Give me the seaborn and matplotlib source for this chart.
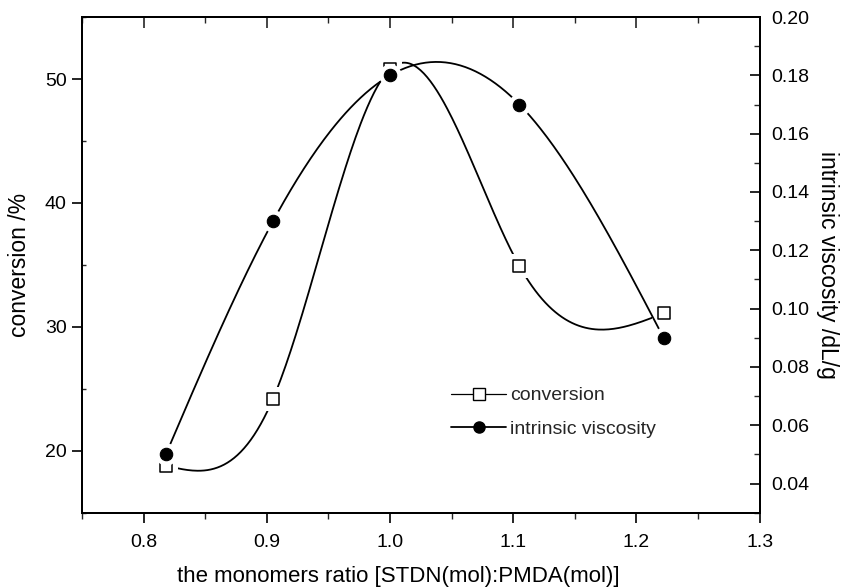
import numpy as np
import pandas as pd
import matplotlib
matplotlib.use("Agg")
import matplotlib.pyplot as plt
from matplotlib.lines import Line2D
from matplotlib.ticker import MultipleLocator
import seaborn as sns

# monomer ratio STDN:PMDA
ratio = [0.818, 0.905, 1.000, 1.105, 1.222]
# monomer conversion, %
conversion = [18.8, 24.2, 50.8, 34.9, 31.1]
# intrinsic viscosity, dL/g
viscosity = [0.050, 0.130, 0.180, 0.170, 0.090]

x_ticks = [0.8, 0.9, 1.0, 1.1, 1.2, 1.3]
left_ticks = [20, 30, 40, 50]
right_ticks = [0.04, 0.06, 0.08, 0.10, 0.12, 0.14, 0.16, 0.18, 0.20]


def natural_spline(x, y, num=300):
    """Smooth connecting curve through the points (natural cubic spline)."""
    x = np.asarray(x, float)
    y = np.asarray(y, float)
    n = len(x)
    h = np.diff(x)
    A = np.zeros((n, n))
    b = np.zeros(n)
    A[0, 0] = 1.0
    A[-1, -1] = 1.0
    for i in range(1, n - 1):
        A[i, i - 1] = h[i - 1]
        A[i, i] = 2 * (h[i - 1] + h[i])
        A[i, i + 1] = h[i]
        b[i] = 6 * ((y[i + 1] - y[i]) / h[i] - (y[i] - y[i - 1]) / h[i - 1])
    M = np.linalg.solve(A, b)
    xs = np.linspace(x[0], x[-1], num)
    idx = np.clip(np.searchsorted(x, xs) - 1, 0, n - 2)
    x0, x1 = x[idx], x[idx + 1]
    hh = x1 - x0
    t0, t1 = x1 - xs, xs - x0
    ys = (M[idx] * t0 ** 3 / (6 * hh) + M[idx + 1] * t1 ** 3 / (6 * hh)
          + (y[idx] / hh - M[idx] * hh / 6) * t0
          + (y[idx + 1] / hh - M[idx + 1] * hh / 6) * t1)
    return xs, ys


sns.set_theme(style="white")
plt.rcParams["font.family"] = ["Liberation Sans", "DejaVu Sans"]
plt.rcParams["axes.linewidth"] = 1.4

fig = plt.figure(figsize=(8.46, 5.88), dpi=100)
ax = fig.add_axes([0.097, 0.128, 0.801, 0.843])
ax2 = ax.twinx()

df_conv = pd.DataFrame({"ratio": ratio, "value": conversion})
df_visc = pd.DataFrame({"ratio": ratio, "value": viscosity})

sx, sy = natural_spline(ratio, conversion)
sns.lineplot(x=sx, y=sy, ax=ax, color="black", lw=1.3, sort=False, zorder=2)
sx2, sy2 = natural_spline(ratio, viscosity)
sns.lineplot(x=sx2, y=sy2, ax=ax2, color="black", lw=1.3, sort=False, zorder=2)

# white halos leave the small gaps between curves and symbols
sns.scatterplot(data=df_conv, x="ratio", y="value", ax=ax, marker="s", s=290,
                color="white", edgecolor="white", linewidth=0, zorder=3)
sns.scatterplot(data=df_conv, x="ratio", y="value", ax=ax, marker="s", s=85,
                color="white", edgecolor="black", linewidth=1.1, zorder=4)
sns.scatterplot(data=df_visc, x="ratio", y="value", ax=ax2, marker="o", s=260,
                color="white", edgecolor="white", linewidth=0, zorder=3)
sns.scatterplot(data=df_visc, x="ratio", y="value", ax=ax2, marker="o", s=80,
                color="black", edgecolor="black", linewidth=0.8, zorder=4)

ax.set_xlim(0.75, 1.3)
ax.set_ylim(15, 55)
ax2.set_ylim(0.03, 0.20)

ax.set_xticks(x_ticks)
ax.set_xticklabels([f"{v:.1f}" for v in x_ticks])
ax.xaxis.set_minor_locator(MultipleLocator(0.05))
ax.set_yticks(left_ticks)
ax.yaxis.set_minor_locator(MultipleLocator(5))
ax2.set_yticks(right_ticks)
ax2.set_yticklabels([f"{v:.2f}" for v in right_ticks])
ax2.yaxis.set_minor_locator(MultipleLocator(0.01))

ax.tick_params(axis="x", which="major", direction="out", length=7, width=1.2,
               labelsize=14, pad=8, bottom=True, top=False, colors="black")
ax.tick_params(axis="x", which="minor", direction="out", length=4, width=1.0,
               bottom=True, top=False)
ax.tick_params(axis="y", which="major", direction="out", length=7, width=1.2,
               labelsize=14, pad=4, left=True, right=False, colors="black")
ax.tick_params(axis="y", which="minor", direction="in", length=3, width=1.0,
               left=True, right=False)
ax2.tick_params(axis="y", which="major", direction="in", length=7, width=1.2,
                labelsize=14, pad=8, right=True, left=False, colors="black")
ax2.tick_params(axis="y", which="minor", direction="in", length=4, width=1.0,
                right=True, left=False)

top = ax.secondary_xaxis("top")
top.set_xticks(x_ticks)
top.xaxis.set_minor_locator(MultipleLocator(0.05))
top.tick_params(axis="x", which="major", direction="in", length=8, width=1.2,
                labeltop=False)
top.tick_params(axis="x", which="minor", direction="in", length=4, width=1.0)
top.set_xticklabels([])

for a in (ax, ax2):
    for sp in a.spines.values():
        sp.set_color("black")
        sp.set_linewidth(1.4)

ax.set_xlabel("the monomers ratio [STDN(mol):PMDA(mol)]", fontsize=16,
              color="black")
ax.xaxis.set_label_coords(0.466, -0.108)
ax.set_ylabel("conversion /%", fontsize=16.5, labelpad=10, color="black")
ax2.set_ylabel("intrinsic viscosity /dL/g", fontsize=16.5, rotation=-90,
               labelpad=22, color="black")

handles = [
    Line2D([], [], color="black", lw=0.9, marker="s", markersize=8,
           markerfacecolor="white", markeredgecolor="black", markeredgewidth=1.0),
    Line2D([], [], color="black", lw=1.3, marker="o", markersize=8,
           markerfacecolor="black", markeredgecolor="black"),
]
ax.legend(handles, ["conversion", "intrinsic viscosity"], loc="upper left",
          bbox_to_anchor=(0.545, 0.254), frameon=False, fontsize=14,
          borderpad=0, borderaxespad=0,
          handlelength=2.8, handletextpad=0.2, labelspacing=0.8)

fig.savefig("out.png", dpi=100)
